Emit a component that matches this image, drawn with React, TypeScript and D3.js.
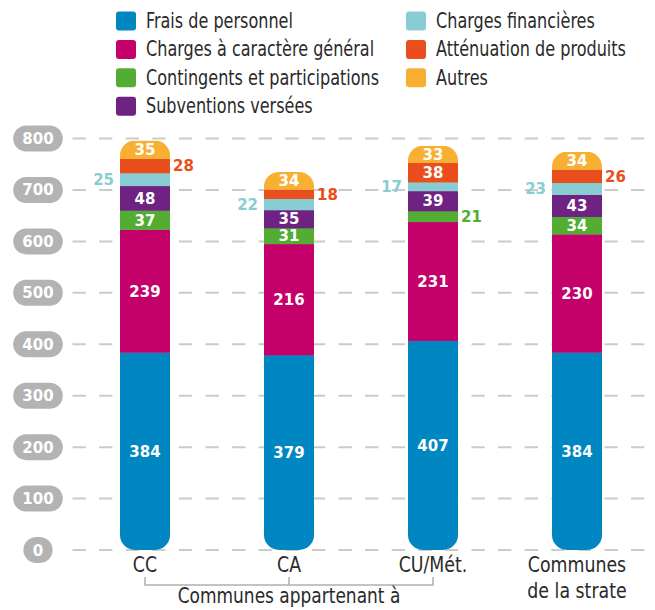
import React from 'react';
import * as d3 from 'd3';

const categories = ["CC", "CA", "CU/Mét.", "Communes de la strate"];
const categoryLines = [["CC"], ["CA"], ["CU/Mét."], ["Communes", "de la strate"]];
const groupLabel = "Communes appartenant à";

const seriesNames = [
  "Frais de personnel",
  "Charges à caractère général",
  "Contingents et participations",
  "Subventions versées",
  "Charges financières",
  "Atténuation de produits",
  "Autres",
];
const seriesColors = ["#0087c1", "#c4006a", "#52ad32", "#6e2281", "#89cdd4", "#e94e1c", "#f8b032"];

// valeurs par catégorie (CC, CA, CU/Mét., strate)
const fraisPersonnel = [384, 379, 407, 384];
const chargesGenerales = [239, 216, 231, 230];
const contingents = [37, 31, 21, 34];
const subventions = [48, 35, 39, 43];
const chargesFinancieres = [25, 22, 17, 23];
const attenuation = [28, 18, 38, 26];
const autres = [35, 34, 33, 34];

const yTicks = [0, 100, 200, 300, 400, 500, 600, 700, 800];

const seriesValues = [fraisPersonnel, chargesGenerales, contingents, subventions, chargesFinancieres, attenuation, autres];

const rows = categories.map((c, i) => {
  const r: any = { category: c };
  seriesNames.forEach((s, j) => { r[s] = seriesValues[j][i]; });
  return r;
});

const labelFont = "'DejaVu Sans Condensed', 'DejaVu Sans', sans-serif";
const numFont = "'DejaVu Sans', sans-serif";
const textColor = "#2a2a2a";

export default function App() {
  const width = 655;
  const height = 610;
  const barWidth = 50;

  const x = d3.scalePoint<string>().domain(categories).range([145, 577]);
  const y = d3.scaleLinear().domain([0, 800]).range([550, 138.5]);

  const stacked = d3.stack<any>().keys(seriesNames)(rows);

  const bracketY = 585;
  const x0 = x(categories[0])!;
  const x2 = x(categories[2])!;

  return (
    <svg width={width} height={height} style={{ position: 'absolute', left: 0, top: 0, background: '#fff' }}>
      <defs>
        {categories.map((c, i) => {
          const total = d3.sum(seriesValues, (v) => v[i]);
          return (
            <clipPath id={`bar-clip-${i}`} key={c}>
              <rect x={x(c)! - barWidth / 2} y={y(total)} width={barWidth}
                height={y(0) - y(total)} rx={15} ry={15} />
            </clipPath>
          );
        })}
      </defs>

      {/* legende */}
      {seriesNames.map((s, j) => {
        const col = j < 4 ? 0 : 1;
        const row = j < 4 ? j : j - 4;
        const lx = col === 0 ? 116 : 406;
        const ly = 21 + row * 28.4;
        return (
          <g key={s}>
            <rect x={lx} y={ly - 9.5} width={20} height={19} rx={3} fill={seriesColors[j]} />
            <g transform={`translate(${lx + 30},${ly}) scale(0.85,1)`}>
              <text x={0} y={0} dominantBaseline="central" fontFamily={labelFont}
                fontSize={21} fill={textColor}>{s}</text>
            </g>
          </g>
        );
      })}

      {/* grille */}
      {yTicks.map((t) => (
        <g key={t}>
          <line x1={72.5} x2={648} y1={y(t)} y2={y(t)} stroke="#cbcbcb" strokeWidth={2}
            strokeDasharray="13.3 13.3" />
          <rect x={38 - Math.max(27, String(t).length * 10.2 + 19) / 2} y={y(t) - 13}
            width={Math.max(27, String(t).length * 10.2 + 19)} height={26} rx={13} fill="#b3b3b3" />
          <text x={38} y={y(t) + 0.5} textAnchor="middle" dominantBaseline="central"
            fontFamily={numFont} fontWeight="bold" fontSize={15} fill="#fff">{t}</text>
        </g>
      ))}

      {/* barres */}
      {categories.map((c, i) => (
        <g key={c} clipPath={`url(#bar-clip-${i})`}>
          {stacked.map((layer, j) => (
            <rect key={layer.key} x={x(c)! - barWidth / 2} y={y(layer[i][1])}
              width={barWidth} height={y(layer[i][0]) - y(layer[i][1]) + 0.3}
              fill={seriesColors[j]} />
          ))}
        </g>
      ))}

      {/* etiquettes */}
      {categories.map((c, i) => stacked.map((layer, j) => {
        const v = seriesValues[j][i];
        const cy = (y(layer[i][0]) + y(layer[i][1])) / 2;
        const outside = v < 30;
        const left = layer.key === "Charges financières";
        let lx = x(c)!;
        let anchor = "middle";
        if (outside) {
          lx = left ? x(c)! - barWidth / 2 - 6 : x(c)! + barWidth / 2 + 3;
          anchor = left ? "end" : "start";
        }
        return (
          <text key={`${c}-${layer.key}`} x={lx} y={cy + 0.5} textAnchor={anchor}
            dominantBaseline="central" fontFamily={numFont} fontWeight="bold" fontSize={15}
            fill={outside ? seriesColors[j] : "#fff"}>{v}</text>
        );
      }))}

      {/* axe x */}
      {categories.map((c, i) => (
        <g key={c} transform={`translate(${x(c)},572) scale(0.92,1)`}>
          <text x={0} y={0} textAnchor="middle" fontFamily={labelFont} fontSize={21} fill={textColor}>
            {categoryLines[i].map((l, k) => (
              <tspan key={l} x={0} dy={k === 0 ? 0 : 26}>{l}</tspan>
            ))}
          </text>
        </g>
      ))}

      <path d={`M${x0},${bracketY - 8}V${bracketY}H${x2}V${bracketY - 8}M${x(categories[1])},${bracketY - 8}V${bracketY}`}
        fill="none" stroke="#b0b0b0" strokeWidth={1.5} />
      <g transform={`translate(${(x0 + x2) / 2},603) scale(0.9,1)`}>
        <text x={0} y={0} textAnchor="middle" fontFamily={labelFont} fontSize={21}
          fill={textColor}>{groupLabel}</text>
      </g>
    </svg>
  );
}
